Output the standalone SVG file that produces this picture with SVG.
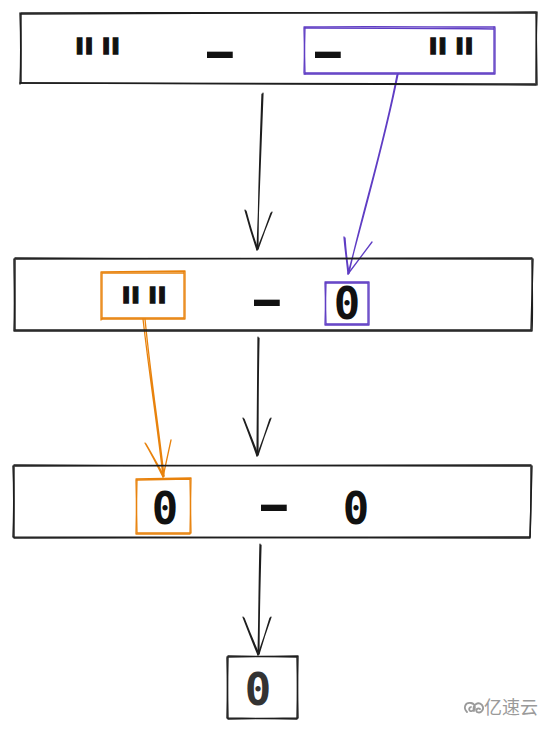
<svg xmlns="http://www.w3.org/2000/svg" width="550" height="732" viewBox="0 0 550 732">
<style>
.box{fill:none;stroke:#1e1e1e;stroke-width:1.4;stroke-linecap:round;stroke-linejoin:round}
.pur{fill:none;stroke:#5f3dc4;stroke-width:1.3;stroke-linecap:round;stroke-linejoin:round}
.org{fill:none;stroke:#e8820c;stroke-width:1.3;stroke-linecap:round;stroke-linejoin:round}
.arr{fill:none;stroke:#1e1e1e;stroke-width:1.2;stroke-linecap:round;stroke-linejoin:round}
.t{font-family:"DejaVu Sans Mono","Liberation Mono",monospace;font-weight:bold;font-size:44px;fill:#111;text-anchor:middle}
.q{font-family:"DejaVu Sans Mono","Liberation Mono",monospace;font-weight:bold;font-size:58px;fill:#111;stroke:#111;stroke-width:1.6;text-anchor:middle;letter-spacing:6px}
.wm{font-family:"Noto Sans CJK SC","Noto Sans",sans-serif;font-size:18px;fill:#9a9a9a}
</style>
<rect width="550" height="732" fill="#fff"/>
<g id="connectors">
  <g id="arrow-1">
    <path class="arr" d="M263 93 C261 140 259 200 257 250 M262 94 C260 150 258 200 258 249"/>
    <path class="arr" d="M245 210 C249 225 253 238 257 250 L272 212 M246 211 C250 226 254 240 258 249 L271 213"/>
  </g>
  <g id="arrow-purple">
    <path class="pur" d="M398 74 C385 140 362 220 348 274 M397 75 C384 145 360 220 349 273"/>
    <path class="pur" d="M344 237 C345 250 347 262 348 274 L372 242 M345 238 C346 252 347 262 349 273"/>
  </g>
  <g id="arrow-2">
    <path class="arr" d="M258 337 C258 380 257 420 257 456 M259 338 C258 380 258 420 258 455"/>
    <path class="arr" d="M243 418 C248 431 253 444 257 456 L271 418 M244 419 C249 432 254 444 258 455 L270 419"/>
  </g>
  <g id="arrow-orange">
    <path class="org" d="M143 319 C150 380 158 430 163 477 M145 319 C151 380 159 430 164 476"/>
    <path class="org" d="M145 443 C152 455 158 467 163 477 L171 440 M146 444 C153 456 159 467 164 476"/>
  </g>
  <g id="arrow-3">
    <path class="arr" d="M260 544 C259 580 259 620 258 655 M261 545 C260 580 259 620 259 654"/>
    <path class="arr" d="M243 617 C248 630 253 643 258 655 L271 617 M244 618 C249 631 254 643 259 654 L270 618"/>
  </g>
</g>
<g id="node-1">
  <path class="box" d="M20 14 L536 12 M537 12 C536 40 536 60 536 84 M536 85 L21 83 M20 84 C21 60 21 40 20 13"/>
  <path class="box" d="M21 13 C200 12 400 13 535 13 M536 13 L537 85 M535 84 C300 85 150 84 20 83 M21 83 L21 14"/>
  <text class="q" transform="matrix(0.65 0 0 1 99.5 81)">""</text>
  <text class="t" transform="matrix(1.9 0 0 1 220 68)">-</text>
  <g id="node-1-sel">
    <path class="pur" d="M304 27 C360 26 430 27 495 27 M495 28 L495 74 M495 74 C420 74 360 74 304 74 M304 73 L305 27"/>
    <path class="pur" d="M305 28 C360 28 430 28 494 29 M494 27 L494 73 M494 73 C420 73 360 73 305 73 M305 74 L304 28"/>
    <text class="t" transform="matrix(1.9 0 0 1 328 68)">-</text>
    <text class="q" transform="matrix(0.65 0 0 1 453 81)">""</text>
  </g>
</g>
<g id="node-2">
  <path class="box" d="M14 259 L532 258 M532 258 C532 280 533 310 532 331 M532 331 L14 331 M14 331 C15 300 14 280 14 259"/>
  <path class="box" d="M15 258 C200 259 400 259 531 259 M533 259 L531 330 M531 330 C300 331 150 330 15 330 M15 330 L15 260"/>
  <g id="node-2-left">
    <path class="org" d="M101 272 L185 271 M185 271 L185 319 M185 319 L101 319 M101 320 L101 272"/>
    <path class="org" d="M102 273 L184 273 M184 272 L184 318 M184 318 L102 318 M102 319 L102 273"/>
    <text class="q" transform="matrix(0.65 0 0 1 146 330)">""</text>
  </g>
  <text class="t" transform="matrix(1.9 0 0 1 267 316)">-</text>
  <g id="node-2-right">
    <path class="pur" d="M325 282 L369 282 M369 282 L369 325 M369 325 L325 325 M325 325 L326 282"/>
    <path class="pur" d="M326 283 L368 283 M368 283 L368 324 M368 324 L326 324 M326 324 L325 283"/>
    <text class="t" x="347" y="319">0</text>
  </g>
</g>
<g id="node-3">
  <path class="box" d="M13 466 L531 465 M531 465 C531 490 531 515 530 538 M530 538 L13 537 M13 537 C14 510 14 490 13 466"/>
  <path class="box" d="M14 465 C200 466 400 466 530 466 M532 466 L530 537 M530 537 C300 538 150 538 14 538 M14 538 L14 467"/>
  <g id="node-3-left">
    <path class="org" d="M136 479 L191 478 M191 478 L190 534 M190 534 L136 534 M136 534 L137 479"/>
    <path class="org" d="M137 480 L190 479 M190 479 L191 533 M191 533 L137 533 M137 533 L136 480"/>
    <text class="t" x="165" y="524">0</text>
  </g>
  <text class="t" transform="matrix(1.9 0 0 1 274 521)">-</text>
  <text class="t" x="356" y="524">0</text>
</g>
<g id="node-4">
  <path class="box" d="M227 657 L298 656 M298 656 L297 719 M297 719 L227 718 M227 718 L228 657"/>
  <path class="box" d="M228 656 L297 657 M297 657 L298 718 M298 718 L228 719 M228 719 L227 658"/>
  <text class="t" x="258" y="705" style="fill:#333">0</text>
</g>
<g id="watermark">
  <path d="M467 712 C463 708 465 702 471 703 C476 704 476 710 472 711 C469 712 468 708 471 707 M474 711 C472 705 478 701 482 705 C485 709 481 714 477 712 C475 710 478 707 480 709" fill="none" stroke="#9a9a9a" stroke-width="1.8" stroke-linecap="round"/>
  <text class="wm" x="484" y="714">亿速云</text>
</g>
</svg>
